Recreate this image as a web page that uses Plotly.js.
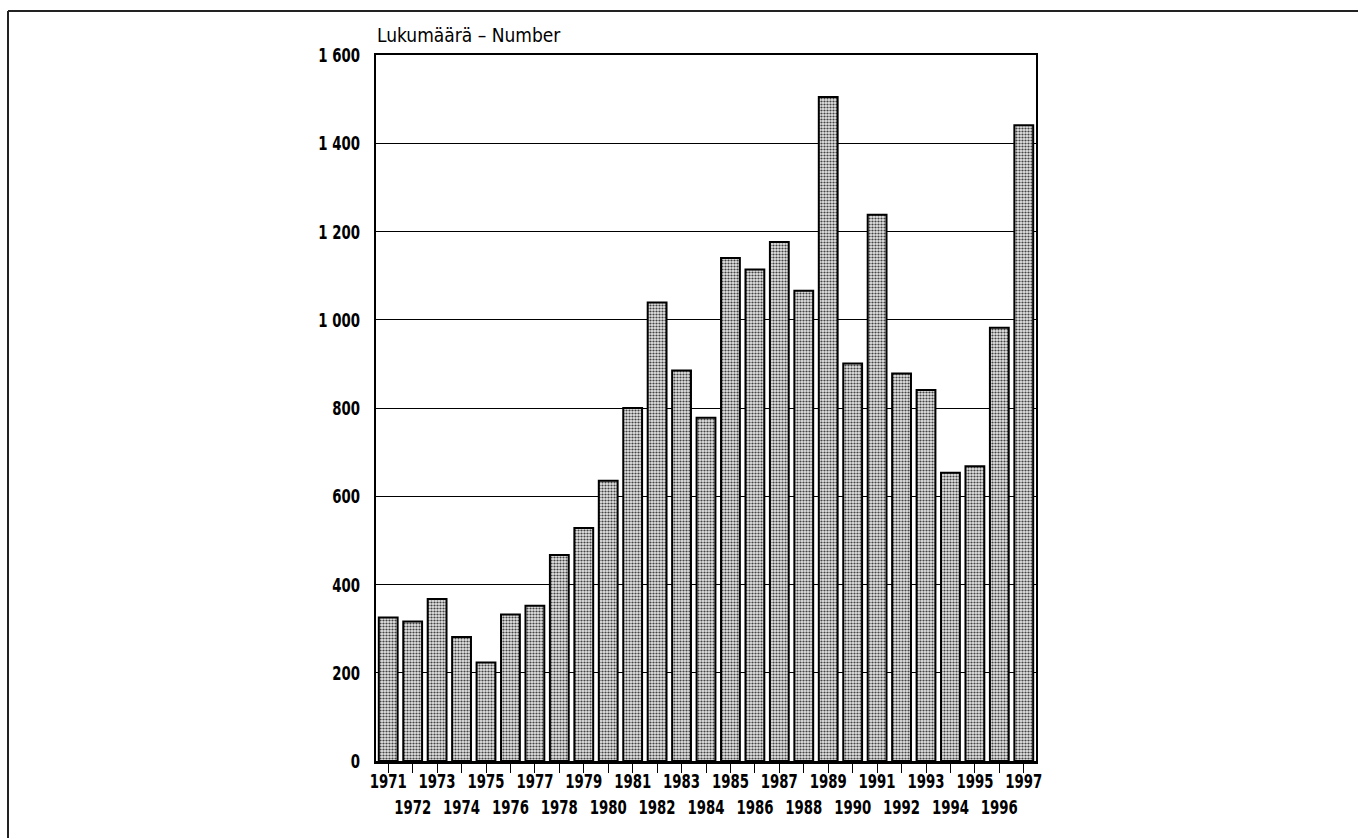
<!DOCTYPE html>
<html>
<head>
<meta charset="utf-8">
<script src="https://cdn.plot.ly/plotly-3.0.1.min.js"></script>
<style>
html,body{margin:0;padding:0;background:#fff;}
#chart{width:1358px;height:838px;}
</style>
</head>
<body>
<div id="chart"></div>
<script>
var years = ['1971','1972','1973','1974','1975','1976','1977','1978','1979','1980',
             '1981','1982','1983','1984','1985','1986','1987','1988','1989','1990',
             '1991','1992','1993','1994','1995','1996','1997'];
var counts = [325, 316, 367, 281, 223, 332, 352, 467, 528, 635,
              800, 1039, 885, 778, 1140, 1114, 1176, 1066, 1505, 901,
              1238, 878, 841, 653, 668, 982, 1441];
var yTickVals = [0, 200, 400, 600, 800, 1000, 1200, 1400, 1600];
var yTickText = ['0', '200', '400', '600', '800', '1 000', '1 200', '1 400', '1 600'];
var xTickText = years.map(function (y, i) { return i % 2 === 0 ? y : '<br>' + y; });
var titleText = 'Lukumäärä – Number';

var FONT = '"DejaVu Sans Condensed", "DejaVu Sans", sans-serif';
var TICKFONT = {family: FONT, size: 20, color: '#000', weight: 'bold'};

var trace = {
  type: 'bar',
  x: years,
  y: counts,
  marker: {
    color: '#a8a8a8',
    line: {color: '#000', width: 2},
    pattern: {shape: '.', fgcolor: '#444', bgcolor: '#e4e4e4', size: 3, solidity: 0.42}
  },
  hoverinfo: 'x+y'
};

var L = 376, R = 1036, T = 55, B = 761;
function px(x) { return (x - L) / (R - L); }
function py(y) { return (B - y) / (B - T); }

var layout = {
  width: 1358,
  height: 838,
  margin: {l: L, r: 1358 - R, t: T, b: 838 - B, pad: 0},
  paper_bgcolor: '#fff',
  plot_bgcolor: '#fff',
  showlegend: false,
  bargap: 0.23,
  font: {family: FONT, size: 18, color: '#000'},
  xaxis: {
    type: 'category',
    range: [-0.5, 26.5],
    tickmode: 'array',
    tickvals: years,
    ticktext: xTickText,
    ticks: 'outside',
    ticklen: 9,
    tickwidth: 1,
    tickcolor: '#000',
    ticklabelstandoff: -8,
    showline: true,
    linecolor: '#000',
    linewidth: 2.5,
    mirror: true,
    showgrid: false,
    tickangle: 0,
    tickfont: TICKFONT
  },
  yaxis: {
    range: [0, 1600],
    tickmode: 'array',
    tickvals: yTickVals,
    ticktext: yTickText,
    ticks: '',
    ticklabelstandoff: 10,
    showline: true,
    linecolor: '#000',
    linewidth: 2,
    mirror: true,
    showgrid: true,
    gridcolor: '#000',
    gridwidth: 1,
    zeroline: false,
    tickfont: TICKFONT
  },
  annotations: [{
    text: titleText,
    xref: 'paper', yref: 'paper',
    x: px(375), y: py(48),
    xanchor: 'left', yanchor: 'bottom',
    showarrow: false,
    font: {family: FONT, size: 19, color: '#000'}
  }],
  shapes: [
    {type: 'line', xref: 'paper', yref: 'paper', x0: px(8), x1: px(1358), y0: py(11), y1: py(11), line: {color: '#222', width: 2}},
    {type: 'line', xref: 'paper', yref: 'paper', x0: px(8), x1: px(8), y0: py(11), y1: py(838), line: {color: '#222', width: 2}}
  ]
};

// horizontally condense a text element about its anchor point (keeps it real text)
function condense(el, k) {
  var ax = parseFloat(el.getAttribute('x')) || 0;
  var t = el.getAttribute('transform') || '';
  el.setAttribute('transform', t + ' translate(' + ax + ',0) scale(' + k + ',1) translate(' + (-ax) + ',0)');
}

Plotly.newPlot('chart', [trace], layout, {displayModeBar: false, staticPlot: true}).then(function (gd) {
  var first = gd.querySelector('.xtick text');
  var kTick = 0.76;
  if (first) {
    var w = first.getBBox().width;
    if (w > 0) kTick = 37 / w;
  }
  gd.querySelectorAll('.xtick text, .ytick text').forEach(function (el) { condense(el, kTick); });
});
</script>
</body>
</html>
